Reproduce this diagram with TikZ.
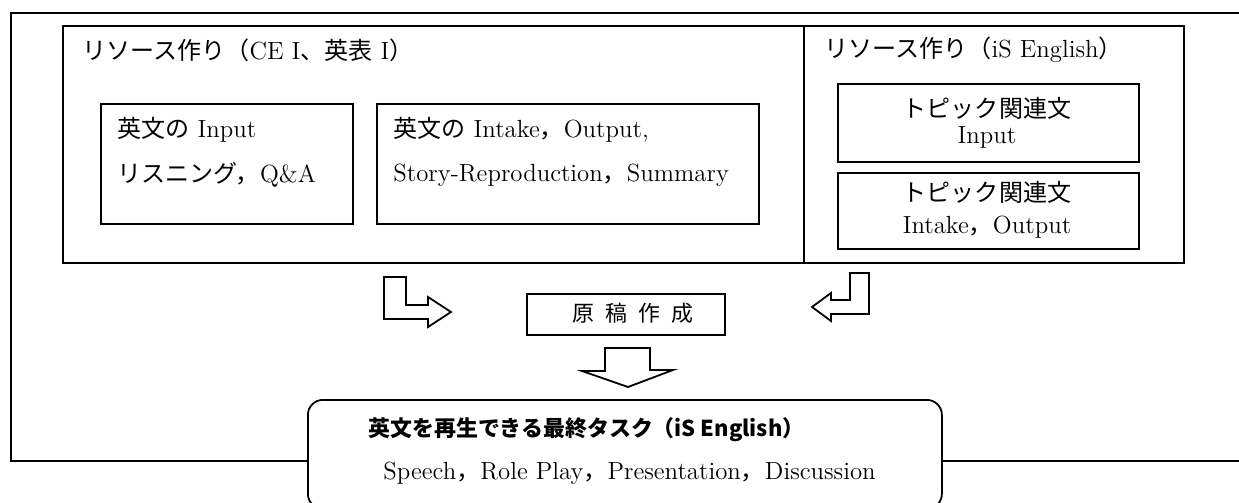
\documentclass[tikz,border=0pt]{standalone}
\usepackage{fontspec}
\newfontfamily\cjk[Scale=0.97]{Noto Sans CJK JP}
\begin{document}
\tikzset{
  box/.style={draw, line width=0.9pt, inner sep=0pt, anchor=north west},
  txt/.style={font=\fontsize{12.4pt}{14pt}\selectfont, inner sep=0pt, anchor=west},
  ctxt/.style={font=\fontsize{12.4pt}{14pt}\selectfont, inner sep=0pt, anchor=center},
  blockarrow/.style={draw, line width=0.9pt, fill=white, line join=miter}
}
\begin{tikzpicture}[x=0.5pt,y=-0.5pt]
\useasboundingbox (0,0) rectangle (1239,503);
\clip (0,0) rectangle (1239,503);
% outer frame
\node[box, minimum width=620pt, minimum height=224pt] (outer) at (10,12) {};
% resource box with divider
\node[box, minimum width=560.5pt, minimum height=118.5pt] (res) at (62,25) {};
\coordinate (divtop) at (804,25);
\coordinate (divbot) at (804,262);
\draw[line width=0.9pt] (divtop) -- (divbot);
% titles
\node[txt] (t1) at (82,50) {{\cjk リソース作り（}CE I{\cjk 、英表} I{\cjk ）}};
\node[txt] (t2) at (824,50) {{\cjk リソース作り（}iS English{\cjk ）}};
% left inner boxes
\node[box, minimum width=126pt, minimum height=60pt] (b1) at (100,103) {};
\node[txt] (b1a) at (117,130) {{\cjk 英文の} Input};
\node[txt] (b1b) at (117,175) {{\cjk リスニング，}Q\&A};
\node[box, minimum width=191pt, minimum height=60pt] (b2) at (376,103) {};
\node[txt] (b2a) at (393,130) {{\cjk 英文の} Intake{\cjk ，}Output,};
\node[txt] (b2b) at (393,175) {Story-Reproduction{\cjk ，}Summary};
% right inner boxes
\node[box, minimum width=150.5pt, minimum height=39pt] (b3) at (837,83) {};
\node[ctxt] (b3a) at (987,108) {\cjk トピック関連文};
\node[ctxt] (b3b) at (987,137) {Input};
\node[box, minimum width=150.5pt, minimum height=38pt] (b4) at (837,172) {};
\node[ctxt] (b4a) at (987,192) {\cjk トピック関連文};
\node[ctxt] (b4b) at (987,227) {Intake{\cjk ，}Output};
% draft box
\node[box, minimum width=99pt, minimum height=20.5pt] (draft) at (526,293) {};
\node[ctxt, font=\fontsize{11.3pt}{13pt}\selectfont] (draftt) at (633,313) {\cjk 原\hspace{5.5pt}稿\hspace{5.5pt}作\hspace{5.5pt}成};
% block arrows
\draw[blockarrow] (384,277) -- (406,277) -- (406,305) -- (428,305) -- (428,297) -- (451,312) -- (428,327) -- (428,319) -- (384,319) -- cycle;
\draw[blockarrow] (869,273) -- (850,273) -- (850,300) -- (831,300) -- (831,293) -- (812,307) -- (831,321) -- (831,314) -- (869,314) -- cycle;
\draw[blockarrow] (605,348) -- (650,348) -- (650,370) -- (673,370) -- (628,387) -- (582,371) -- (605,371) -- cycle;
% final task box
\node[box, rounded corners=7.5pt, fill=white, minimum width=317pt, minimum height=54.5pt] (final) at (307,399) {};
\node[txt, font=\fontsize{11.3pt}{13pt}\selectfont] (fa) at (368,430) {\cjk\bfseries 英文を再生できる最終タスク（iS English）};
\node[txt] (fb) at (383,473) {Speech{\cjk ，}Role Play{\cjk ，}Presentation{\cjk ，}Discussion};
\end{tikzpicture}
\end{document}
